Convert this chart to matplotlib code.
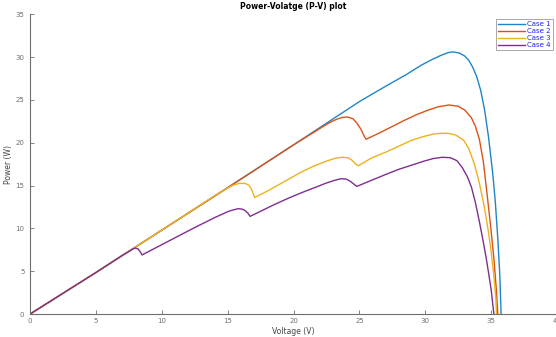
import matplotlib.pyplot as plt

v1 = [0, 5, 10, 15, 20, 25, 27, 28.5, 29.7, 30.5, 31.2, 31.7, 32.1, 32.6, 33.0, 33.3,
      33.6, 33.9, 34.2, 34.5, 34.8, 35.1, 35.3, 35.5, 35.65, 35.75]
p1 = [0, 4.85, 9.8, 14.75, 19.75, 24.8, 26.6, 27.9, 29.05, 29.7, 30.2, 30.5, 30.6, 30.45,
      30.1, 29.6, 28.8, 27.7, 26.1, 23.8, 20.6, 16.6, 13.3, 8.8, 4.6, 0]

v2 = [0, 5, 10, 15, 20, 22.2, 22.8, 23.3, 23.7, 24.1, 24.5, 24.8, 25.1, 25.35, 25.5,
      26.6, 27.5, 28.4, 29.3, 30.2, 31.0, 31.8, 32.5, 33.0, 33.5, 33.8, 34.1, 34.4,
      34.7, 35.0, 35.2, 35.4, 35.5]
p2 = [0, 4.85, 9.8, 14.75, 19.75, 21.85, 22.4, 22.75, 22.95, 23.0, 22.8, 22.3, 21.6,
      20.8, 20.4, 21.2, 21.9, 22.6, 23.25, 23.8, 24.2, 24.4, 24.25, 23.8, 22.9, 21.9,
      20.4, 17.8, 13.8, 9.6, 6.5, 2.6, 0]

v3 = [0, 5, 10, 14, 14.6, 15.1, 15.5, 15.9, 16.3, 16.6, 16.8, 16.95, 17.05, 18, 19,
      20.5, 21.5, 22.5, 23.2, 23.7, 24.1, 24.4, 24.65, 24.9, 25.9, 27, 28, 28.9, 29.8,
      30.6, 31.2, 31.7, 32.3, 32.9, 33.3, 33.7, 34.1, 34.5, 34.8, 35.0, 35.2, 35.35, 35.4]
p3 = [0, 4.85, 9.8, 13.8, 14.35, 14.8, 15.1, 15.25, 15.25, 15.05, 14.6, 14.0, 13.6,
      14.35, 15.2, 16.5, 17.25, 17.85, 18.2, 18.3, 18.25, 18.0, 17.6, 17.3, 18.2, 18.9,
      19.6, 20.25, 20.7, 21.0, 21.1, 21.1, 20.9, 20.3, 19.3, 17.6, 15.3, 12.3, 9.5,
      7.2, 4.5, 1.8, 0]

v4 = [0, 5, 7, 7.5, 7.8, 8.0, 8.2, 8.35, 8.5, 9.5, 11, 12.5, 14, 15.0, 15.4, 15.8,
      16.1, 16.35, 16.55, 16.7, 17.5, 18.5, 19.5, 20.5, 21.5, 22.5, 23.1, 23.6, 24.0,
      24.3, 24.55, 24.8, 25.9, 27, 28, 29, 29.9, 30.6, 31.3, 31.9, 32.4, 32.8, 33.2,
      33.5, 33.8, 34.1, 34.4, 34.6, 34.8, 35.0, 35.2]
p4 = [0, 4.85, 6.85, 7.3, 7.6, 7.7, 7.6, 7.3, 6.9, 7.7, 8.9, 10.1, 11.25, 11.95, 12.15,
      12.3, 12.25, 12.05, 11.75, 11.4, 12.0, 12.75, 13.45, 14.1, 14.7, 15.3, 15.6, 15.8,
      15.75, 15.5, 15.2, 14.9, 15.6, 16.3, 16.9, 17.4, 17.85, 18.15, 18.3, 18.25, 17.9,
      17.1, 16.0, 14.8, 13.0, 10.8, 8.4, 6.7, 4.8, 2.8, 0]

etiquetas = ['Case 1', 'Case 2', 'Case 3', 'Case 4']
colores = ['#1f85c6', '#D95319', '#EDB120', '#7E2F8E']

fig = plt.figure(figsize=(5.56, 3.37), dpi=100)
ax = fig.add_axes([0.054, 0.068, 0.948, 0.89])

for v, p, lab, c in zip([v1, v2, v3, v4], [p1, p2, p3, p4], etiquetas, colores):
    ax.plot(v, p, color=c, linewidth=1.0, label=lab)

ax.set_xlim(0, 40)
ax.set_ylim(0, 35)
ax.set_xticks(range(0, 41, 5))
ax.set_yticks(range(0, 36, 5))

gris = '#6e6e6e'
for s in ['top', 'right']:
    ax.spines[s].set_visible(False)
for s in ['left', 'bottom']:
    ax.spines[s].set_color(gris)
    ax.spines[s].set_linewidth(0.8)
ax.tick_params(direction='in', length=3, width=0.6, colors=gris, labelsize=5, pad=3)
ax.tick_params(axis='y', pad=4)

ax.set_xlabel('Voltage (V)', fontsize=5.5, color='#444444', labelpad=2)
ax.set_ylabel('Power (W)', fontsize=5.5, color='#444444', labelpad=2)
ax.set_title('Power-Volatge (P-V) plot', fontsize=5.5, fontweight='bold', pad=4)

leg = ax.legend(loc='upper right', fontsize=5, labelcolor='#2020ff', handlelength=3.8,
                handletextpad=0.3, borderpad=0.3, labelspacing=0.15, fancybox=False,
                framealpha=1, bbox_to_anchor=(0.998, 0.995))
leg.get_frame().set_edgecolor('#9a9a9a')
leg.get_frame().set_linewidth(0.6)

plt.savefig('out.png', dpi=100)
